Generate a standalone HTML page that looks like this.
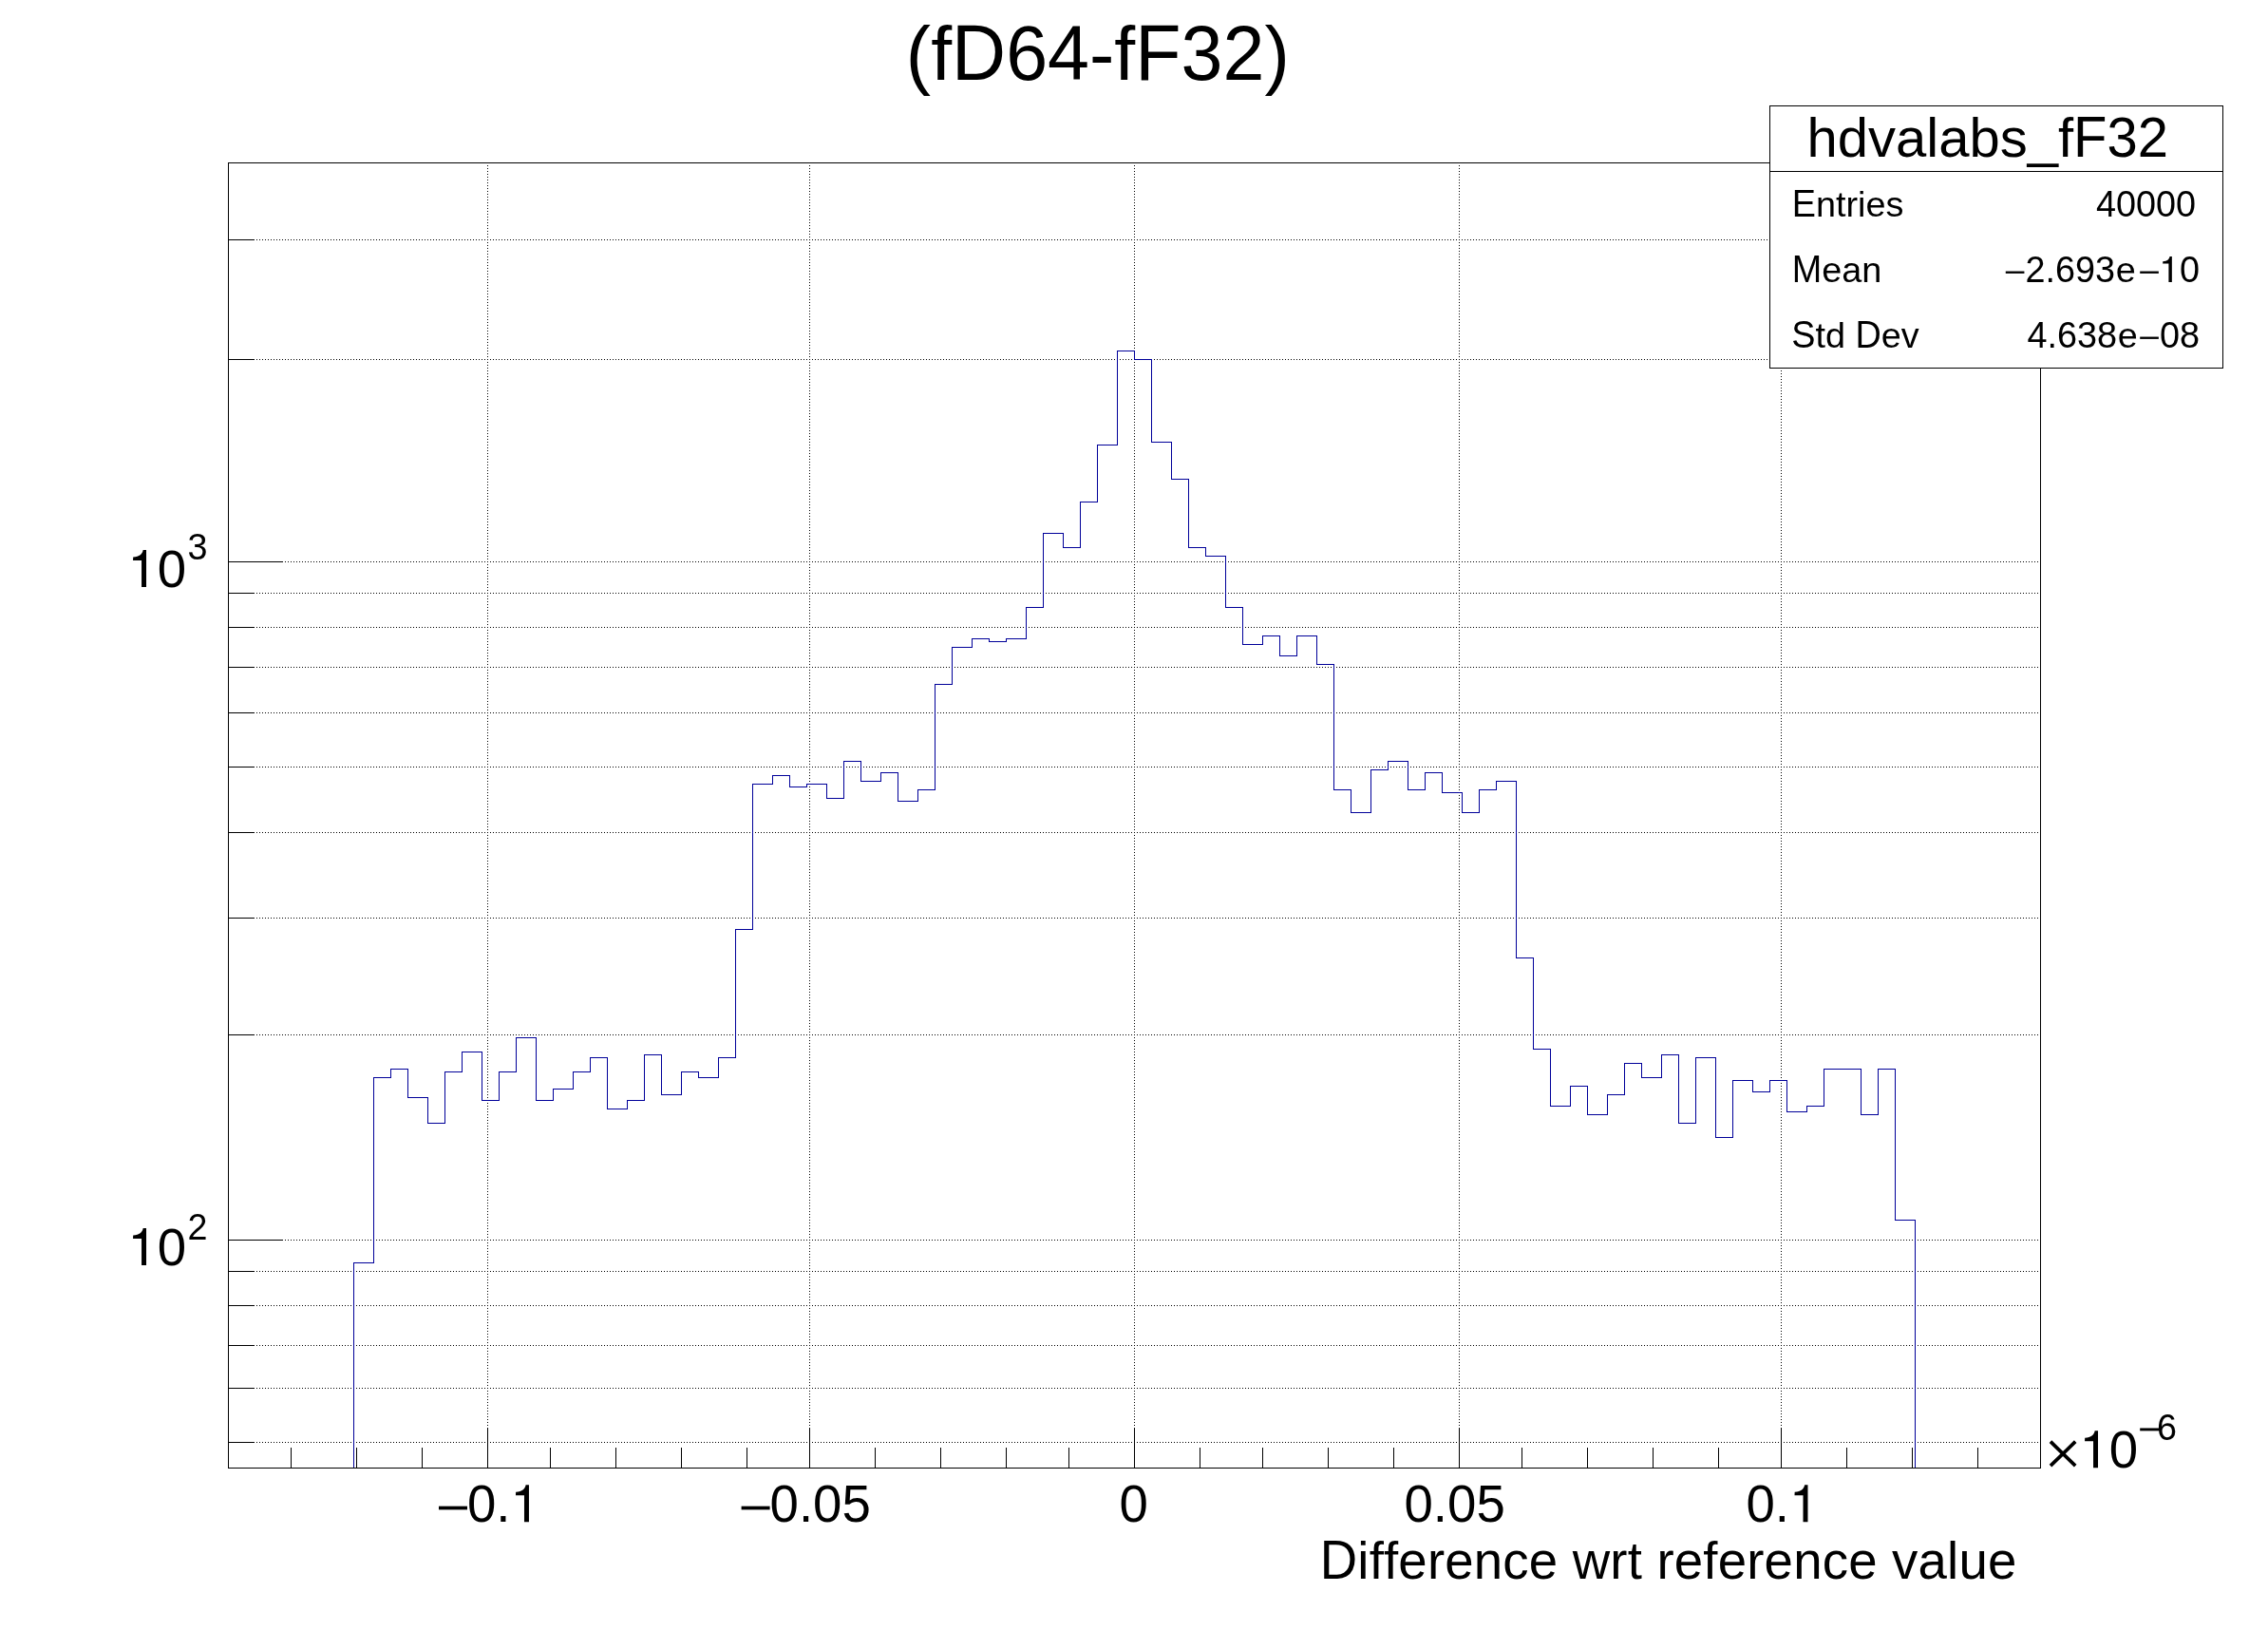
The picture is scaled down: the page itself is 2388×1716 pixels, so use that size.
<!DOCTYPE html><html><head><meta charset="utf-8"><title>hdvalabs_fF32</title><style>html,body{margin:0;padding:0;background:#fff;}body{width:2388px;height:1716px;position:relative;overflow:hidden;font-family:"Liberation Sans",sans-serif;}</style></head><body><svg width="2388" height="1716" viewBox="0 0 2388 1716" style="position:absolute;left:0;top:0;will-change:transform">
<rect x="0" y="0" width="2388" height="1716" fill="#fff"/>
<g shape-rendering="crispEdges" fill="none" stroke="#000" stroke-width="1">
<g stroke-dasharray="1 2">
<line x1="240" y1="1518.5" x2="2149" y2="1518.5"/>
<line x1="240" y1="1461.5" x2="2149" y2="1461.5"/>
<line x1="240" y1="1416.5" x2="2149" y2="1416.5"/>
<line x1="240" y1="1374.5" x2="2149" y2="1374.5"/>
<line x1="240" y1="1338.5" x2="2149" y2="1338.5"/>
<line x1="240" y1="1305.5" x2="2149" y2="1305.5"/>
<line x1="240" y1="1089.5" x2="2149" y2="1089.5"/>
<line x1="240" y1="966.5" x2="2149" y2="966.5"/>
<line x1="240" y1="876.5" x2="2149" y2="876.5"/>
<line x1="240" y1="807.5" x2="2149" y2="807.5"/>
<line x1="240" y1="750.5" x2="2149" y2="750.5"/>
<line x1="240" y1="702.5" x2="2149" y2="702.5"/>
<line x1="240" y1="660.5" x2="2149" y2="660.5"/>
<line x1="240" y1="624.5" x2="2149" y2="624.5"/>
<line x1="240" y1="591.5" x2="2149" y2="591.5"/>
<line x1="240" y1="378.5" x2="2149" y2="378.5"/>
<line x1="240" y1="252.5" x2="2149" y2="252.5"/>
<line x1="513.5" y1="171" x2="513.5" y2="1546"/>
<line x1="852.5" y1="171" x2="852.5" y2="1546"/>
<line x1="1194.5" y1="171" x2="1194.5" y2="1546"/>
<line x1="1536.5" y1="171" x2="1536.5" y2="1546"/>
<line x1="1875.5" y1="171" x2="1875.5" y2="1546"/>
</g>
<rect x="240.5" y="171.5" width="1908" height="1374"/>
<polyline points="372.5,1545.5 372.5,1329.5 393.5,1329.5 393.5,1134.5 411.5,1134.5 411.5,1125.5 429.5,1125.5 429.5,1155.5 450.5,1155.5 450.5,1182.5 468.5,1182.5 468.5,1128.5 486.5,1128.5 486.5,1107.5 507.5,1107.5 507.5,1158.5 525.5,1158.5 525.5,1128.5 543.5,1128.5 543.5,1092.5 564.5,1092.5 564.5,1158.5 582.5,1158.5 582.5,1146.5 603.5,1146.5 603.5,1128.5 621.5,1128.5 621.5,1113.5 639.5,1113.5 639.5,1167.5 660.5,1167.5 660.5,1158.5 678.5,1158.5 678.5,1110.5 696.5,1110.5 696.5,1152.5 717.5,1152.5 717.5,1128.5 735.5,1128.5 735.5,1134.5 756.5,1134.5 756.5,1113.5 774.5,1113.5 774.5,978.5 792.5,978.5 792.5,825.5 813.5,825.5 813.5,816.5 831.5,816.5 831.5,828.5 849.5,828.5 849.5,825.5 870.5,825.5 870.5,840.5 888.5,840.5 888.5,801.5 906.5,801.5 906.5,822.5 927.5,822.5 927.5,813.5 945.5,813.5 945.5,843.5 966.5,843.5 966.5,831.5 984.5,831.5 984.5,720.5 1002.5,720.5 1002.5,681.5 1023.5,681.5 1023.5,672.5 1041.5,672.5 1041.5,675.5 1059.5,675.5 1059.5,672.5 1080.5,672.5 1080.5,639.5 1098.5,639.5 1098.5,561.5 1119.5,561.5 1119.5,576.5 1137.5,576.5 1137.5,528.5 1155.5,528.5 1155.5,468.5 1176.5,468.5 1176.5,369.5 1194.5,369.5 1194.5,378.5 1212.5,378.5 1212.5,465.5 1233.5,465.5 1233.5,504.5 1251.5,504.5 1251.5,576.5 1269.5,576.5 1269.5,585.5 1290.5,585.5 1290.5,639.5 1308.5,639.5 1308.5,678.5 1329.5,678.5 1329.5,669.5 1347.5,669.5 1347.5,690.5 1365.5,690.5 1365.5,669.5 1386.5,669.5 1386.5,699.5 1404.5,699.5 1404.5,831.5 1422.5,831.5 1422.5,855.5 1443.5,855.5 1443.5,810.5 1461.5,810.5 1461.5,801.5 1482.5,801.5 1482.5,831.5 1500.5,831.5 1500.5,813.5 1518.5,813.5 1518.5,834.5 1539.5,834.5 1539.5,855.5 1557.5,855.5 1557.5,831.5 1575.5,831.5 1575.5,822.5 1596.5,822.5 1596.5,1008.5 1614.5,1008.5 1614.5,1104.5 1632.5,1104.5 1632.5,1164.5 1653.5,1164.5 1653.5,1143.5 1671.5,1143.5 1671.5,1173.5 1692.5,1173.5 1692.5,1152.5 1710.5,1152.5 1710.5,1119.5 1728.5,1119.5 1728.5,1134.5 1749.5,1134.5 1749.5,1110.5 1767.5,1110.5 1767.5,1182.5 1785.5,1182.5 1785.5,1113.5 1806.5,1113.5 1806.5,1197.5 1824.5,1197.5 1824.5,1137.5 1845.5,1137.5 1845.5,1149.5 1863.5,1149.5 1863.5,1137.5 1881.5,1137.5 1881.5,1170.5 1902.5,1170.5 1902.5,1164.5 1920.5,1164.5 1920.5,1125.5 1938.5,1125.5 1938.5,1125.5 1959.5,1125.5 1959.5,1173.5 1977.5,1173.5 1977.5,1125.5 1995.5,1125.5 1995.5,1284.5 2016.5,1284.5 2016.5,1545.5" stroke="#000099"/>
<line x1="240" y1="1545.5" x2="2149" y2="1545.5"/>
<line x1="240.5" y1="171" x2="240.5" y2="1546"/>
<line x1="240" y1="1518.5" x2="268" y2="1518.5"/>
<line x1="240" y1="1461.5" x2="268" y2="1461.5"/>
<line x1="240" y1="1416.5" x2="268" y2="1416.5"/>
<line x1="240" y1="1374.5" x2="268" y2="1374.5"/>
<line x1="240" y1="1338.5" x2="268" y2="1338.5"/>
<line x1="240" y1="1305.5" x2="298" y2="1305.5"/>
<line x1="240" y1="1089.5" x2="268" y2="1089.5"/>
<line x1="240" y1="966.5" x2="268" y2="966.5"/>
<line x1="240" y1="876.5" x2="268" y2="876.5"/>
<line x1="240" y1="807.5" x2="268" y2="807.5"/>
<line x1="240" y1="750.5" x2="268" y2="750.5"/>
<line x1="240" y1="702.5" x2="268" y2="702.5"/>
<line x1="240" y1="660.5" x2="268" y2="660.5"/>
<line x1="240" y1="624.5" x2="268" y2="624.5"/>
<line x1="240" y1="591.5" x2="298" y2="591.5"/>
<line x1="240" y1="378.5" x2="268" y2="378.5"/>
<line x1="240" y1="252.5" x2="268" y2="252.5"/>
<line x1="513.5" y1="1503" x2="513.5" y2="1546"/>
<line x1="852.5" y1="1503" x2="852.5" y2="1546"/>
<line x1="1194.5" y1="1503" x2="1194.5" y2="1546"/>
<line x1="1536.5" y1="1503" x2="1536.5" y2="1546"/>
<line x1="1875.5" y1="1503" x2="1875.5" y2="1546"/>
<line x1="306.5" y1="1524" x2="306.5" y2="1546"/>
<line x1="375.5" y1="1524" x2="375.5" y2="1546"/>
<line x1="444.5" y1="1524" x2="444.5" y2="1546"/>
<line x1="579.5" y1="1524" x2="579.5" y2="1546"/>
<line x1="648.5" y1="1524" x2="648.5" y2="1546"/>
<line x1="717.5" y1="1524" x2="717.5" y2="1546"/>
<line x1="786.5" y1="1524" x2="786.5" y2="1546"/>
<line x1="921.5" y1="1524" x2="921.5" y2="1546"/>
<line x1="990.5" y1="1524" x2="990.5" y2="1546"/>
<line x1="1059.5" y1="1524" x2="1059.5" y2="1546"/>
<line x1="1125.5" y1="1524" x2="1125.5" y2="1546"/>
<line x1="1263.5" y1="1524" x2="1263.5" y2="1546"/>
<line x1="1329.5" y1="1524" x2="1329.5" y2="1546"/>
<line x1="1398.5" y1="1524" x2="1398.5" y2="1546"/>
<line x1="1467.5" y1="1524" x2="1467.5" y2="1546"/>
<line x1="1602.5" y1="1524" x2="1602.5" y2="1546"/>
<line x1="1671.5" y1="1524" x2="1671.5" y2="1546"/>
<line x1="1740.5" y1="1524" x2="1740.5" y2="1546"/>
<line x1="1809.5" y1="1524" x2="1809.5" y2="1546"/>
<line x1="1944.5" y1="1524" x2="1944.5" y2="1546"/>
<line x1="2013.5" y1="1524" x2="2013.5" y2="1546"/>
<line x1="2082.5" y1="1524" x2="2082.5" y2="1546"/>
<rect x="1863.5" y="111.5" width="477" height="276" fill="#fff"/>
<line x1="1863" y1="180.5" x2="2341" y2="180.5"/>
</g>
<g font-family="'Liberation Sans', sans-serif" fill="#000" style="font-kerning:none">
<text x="953.86" y="84.00" font-size="79.0" xml:space="preserve">(f</text>
<text transform="translate(1002.12,84.00) scale(1,1.065)" font-size="79.0" xml:space="preserve">D</text>
<text transform="translate(1059.17,84.00) scale(1,1.022)" font-size="79.0" xml:space="preserve">64</text>
<text x="1147.04" y="84.00" font-size="79.0" xml:space="preserve">-f</text>
<text transform="translate(1195.30,84.00) scale(1,1.065)" font-size="79.0" xml:space="preserve">F</text>
<text transform="translate(1243.56,84.00) scale(1,1.022)" font-size="79.0" xml:space="preserve">32</text>
<text x="1331.43" y="84.00" font-size="79.0" xml:space="preserve">)</text>
<text x="1902.56" y="164.50" font-size="58.0" xml:space="preserve">hdvalabs_f</text>
<text transform="translate(2183.10,164.50) scale(1,1.065)" font-size="58.0" xml:space="preserve">F</text>
<text transform="translate(2218.53,164.50) scale(1,1.022)" font-size="58.0" xml:space="preserve">32</text>
<text transform="translate(1886.80,227.60) scale(1,1.065)" font-size="37.8" xml:space="preserve">E</text>
<text x="1912.01" y="227.60" font-size="37.8" xml:space="preserve">ntries</text>
<text transform="translate(1886.80,297.00) scale(1,1.065)" font-size="37.8" xml:space="preserve">M</text>
<text x="1918.29" y="297.00" font-size="37.8" xml:space="preserve">ean</text>
<text transform="translate(1886.30,366.00) scale(1,1.065)" font-size="37.8" xml:space="preserve">S</text>
<text x="1911.51" y="366.00" font-size="37.8" xml:space="preserve">td </text>
<text transform="translate(1953.54,366.00) scale(1,1.065)" font-size="37.8" xml:space="preserve">D</text>
<text x="1980.84" y="366.00" font-size="37.8" xml:space="preserve">ev</text>
<text transform="translate(2206.89,227.60) scale(1,1.022)" font-size="37.8" xml:space="preserve">40000</text>
<rect x="2111.77" y="285.55" width="19.66" height="2.3436"/>
<text transform="translate(2132.52,297.00) scale(1,1.022)" font-size="37.8" xml:space="preserve">2.693</text>
<text x="2227.68" y="297.00" font-size="37.8" xml:space="preserve">e</text>
<rect x="2253.20" y="285.55" width="19.66" height="2.3436"/>
<path transform="translate(2277.17,297.0) scale(37.8)" d="M0.195,-0.7155 C0.175,-0.63 0.13,-0.59 0.003,-0.577 L0,-0.513 L0.165,-0.513 L0.165,0 L0.256,0 L0.256,-0.7155 Z"/>
<text transform="translate(2294.98,297.00) scale(1,1.022)" font-size="37.8" xml:space="preserve">0</text>
<text transform="translate(2134.52,366.00) scale(1,1.022)" font-size="37.8" xml:space="preserve">4.638</text>
<text x="2229.68" y="366.00" font-size="37.8" xml:space="preserve">e</text>
<rect x="2253.20" y="354.55" width="19.66" height="2.3436"/>
<text transform="translate(2273.95,366.00) scale(1,1.022)" font-size="37.8" xml:space="preserve">08</text>
<path transform="translate(140.04,617.96) scale(54.6)" d="M0.195,-0.7155 C0.175,-0.63 0.13,-0.59 0.003,-0.577 L0,-0.513 L0.165,-0.513 L0.165,0 L0.256,0 L0.256,-0.7155 Z"/>
<text transform="translate(165.77,617.96) scale(1,1.022)" font-size="54.6" xml:space="preserve">0</text>
<text transform="translate(197.50,589.30) scale(1,1.022)" font-size="37.7" xml:space="preserve">3</text>
<path transform="translate(140.04,1331.96) scale(54.6)" d="M0.195,-0.7155 C0.175,-0.63 0.13,-0.59 0.003,-0.577 L0,-0.513 L0.165,-0.513 L0.165,0 L0.256,0 L0.256,-0.7155 Z"/>
<text transform="translate(165.77,1331.96) scale(1,1.022)" font-size="54.6" xml:space="preserve">0</text>
<text transform="translate(197.50,1304.80) scale(1,1.022)" font-size="37.7" xml:space="preserve">2</text>
<rect x="462.00" y="1585.66" width="29.98" height="3.7128000000000005"/>
<text transform="translate(491.98,1602.20) scale(1,1.022)" font-size="54.6" xml:space="preserve">0.</text>
<path transform="translate(542.97,1602.2) scale(54.6)" d="M0.195,-0.7155 C0.175,-0.63 0.13,-0.59 0.003,-0.577 L0,-0.513 L0.165,-0.513 L0.165,0 L0.256,0 L0.256,-0.7155 Z"/>
<rect x="780.60" y="1585.66" width="29.98" height="3.7128000000000005"/>
<text transform="translate(810.58,1602.20) scale(1,1.022)" font-size="54.6" xml:space="preserve">0.05</text>
<text transform="translate(1178.60,1602.20) scale(1,1.022)" font-size="54.6" xml:space="preserve">0</text>
<text transform="translate(1478.50,1602.20) scale(1,1.022)" font-size="54.6" xml:space="preserve">0.05</text>
<text transform="translate(1838.50,1602.20) scale(1,1.022)" font-size="54.6" xml:space="preserve">0.</text>
<path transform="translate(1889.50,1602.2) scale(54.6)" d="M0.195,-0.7155 C0.175,-0.63 0.13,-0.59 0.003,-0.577 L0,-0.513 L0.165,-0.513 L0.165,0 L0.256,0 L0.256,-0.7155 Z"/>
<path d="M2159.0,1517.7 L2185.2,1543.2 M2185.2,1517.7 L2159.0,1543.2" stroke="#000" stroke-width="3.7" fill="none"/>
<path transform="translate(2195.04,1545.3) scale(54.6)" d="M0.195,-0.7155 C0.175,-0.63 0.13,-0.59 0.003,-0.577 L0,-0.513 L0.165,-0.513 L0.165,0 L0.256,0 L0.256,-0.7155 Z"/>
<text transform="translate(2220.77,1545.30) scale(1,1.022)" font-size="54.6" xml:space="preserve">0</text>
<text transform="translate(2271.00,1515.50) scale(1,1.022)" font-size="37.7" xml:space="preserve">6</text>
<rect x="2253.20" y="1503.45" width="20.10" height="2.9"/>
<text transform="translate(1389.75,1661.50) scale(1,1.065)" font-size="54.6" xml:space="preserve">D</text>
<text x="1429.36" y="1661.50" font-size="54.6" xml:space="preserve">i</text>
<text x="1441.67" y="1661.50" font-size="54.6" xml:space="preserve">f</text>
<text x="1457.02" y="1661.50" font-size="54.6" xml:space="preserve">f</text>
<text x="1472.37" y="1661.50" font-size="54.6" xml:space="preserve">e</text>
<text x="1502.92" y="1661.50" font-size="54.6" xml:space="preserve">r</text>
<text x="1521.28" y="1661.50" font-size="54.6" xml:space="preserve">e</text>
<text x="1551.83" y="1661.50" font-size="54.6" xml:space="preserve">n</text>
<text x="1582.37" y="1661.50" font-size="54.6" xml:space="preserve">c</text>
<text x="1609.85" y="1661.50" font-size="54.6" xml:space="preserve">e</text>
<text x="1640.40" y="1661.50" font-size="54.6" xml:space="preserve"> </text>
<text x="1655.75" y="1661.50" font-size="54.6" xml:space="preserve">w</text>
<text x="1695.36" y="1661.50" font-size="54.6" xml:space="preserve">r</text>
<text x="1713.72" y="1661.50" font-size="54.6" xml:space="preserve">t</text>
<text x="1729.07" y="1661.50" font-size="54.6" xml:space="preserve"> </text>
<text x="1744.42" y="1661.50" font-size="54.6" xml:space="preserve">r</text>
<text x="1762.78" y="1661.50" font-size="54.6" xml:space="preserve">e</text>
<text x="1793.33" y="1661.50" font-size="54.6" xml:space="preserve">f</text>
<text x="1808.68" y="1661.50" font-size="54.6" xml:space="preserve">e</text>
<text x="1839.22" y="1661.50" font-size="54.6" xml:space="preserve">r</text>
<text x="1857.58" y="1661.50" font-size="54.6" xml:space="preserve">e</text>
<text x="1888.13" y="1661.50" font-size="54.6" xml:space="preserve">n</text>
<text x="1918.68" y="1661.50" font-size="54.6" xml:space="preserve">c</text>
<text x="1946.16" y="1661.50" font-size="54.6" xml:space="preserve">e</text>
<text x="1976.70" y="1661.50" font-size="54.6" xml:space="preserve"> </text>
<text x="1992.05" y="1661.50" font-size="54.6" xml:space="preserve">v</text>
<text x="2019.53" y="1661.50" font-size="54.6" xml:space="preserve">a</text>
<text x="2050.08" y="1661.50" font-size="54.6" xml:space="preserve">l</text>
<text x="2062.39" y="1661.50" font-size="54.6" xml:space="preserve">u</text>
<text x="2092.93" y="1661.50" font-size="54.6" xml:space="preserve">e</text>
</g></svg></body></html>
